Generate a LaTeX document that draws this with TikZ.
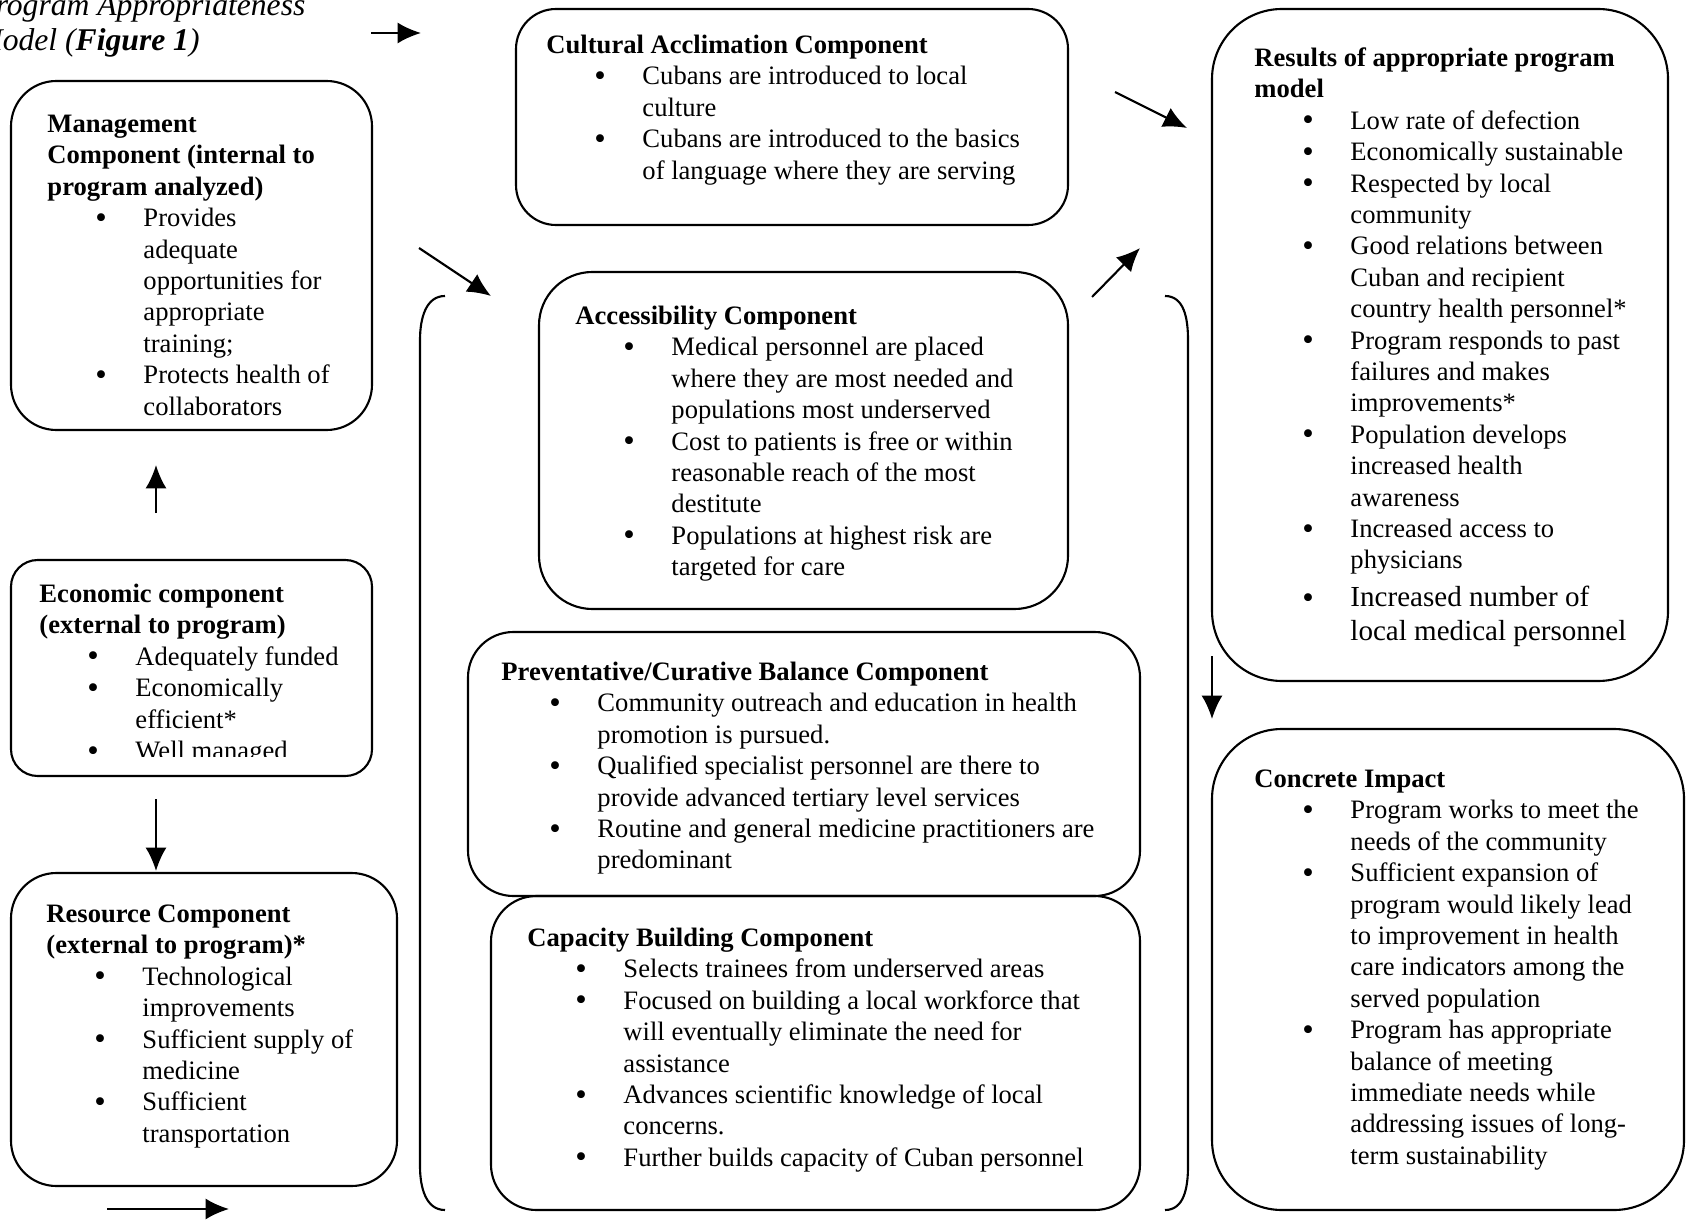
\documentclass[tikz,border=0pt]{standalone}
\usepackage{fontspec}
\setmainfont{Liberation Serif}
\usepackage{tikz}
\usetikzlibrary{arrows.meta,fit}

\newlength{\px}
\setlength{\px}{0.015cm}
% bullet and continuation indents
\newcommand{\bl}{\hspace*{48\px}\makebox[48\px][l]{\smash{\raisebox{-0.7pt}{\fontsize{14pt}{0pt}\selectfont\textbullet}}}}
\newcommand{\cn}{\hspace*{96\px}}

\begin{document}
\begin{tikzpicture}[x=0.015cm, y=-0.015cm]
		\tikzstyle{box}=[draw, line width=0.9pt, inner sep=0pt];
		\tikzstyle{txt}=[anchor=north west, inner sep=0pt, align=left, font=\fontsize{11.35pt}{13.4pt}\selectfont];
		\tikzstyle{arr}=[line width=0.9pt, -{Latex[length=10pt,width=9pt]}];
		\tikzstyle{brk}=[line width=0.9pt];

		\useasboundingbox (0,0) rectangle (1686,1221);
		\clip (0,0) rectangle (1686,1221);

		% title
		\node[anchor=north west, inner sep=0pt, align=left, font=\fontsize{13.5pt}{15pt}\selectfont\itshape] (title) at (-24,-10) {\strut Program Appropriateness\\Model (\textbf{Figure 1})};

		% left column
		\node[box, rounded corners=0.68cm, fit={(11,81) (372,430)}] (mgmt) {};
		\node[txt] (mgmtT) at (47,110) {\strut\textbf{Management}\\\textbf{Component (internal to}\\\textbf{program analyzed)}\\\bl Provides\\\cn adequate\\\cn opportunities for\\\cn appropriate\\\cn training;\\\bl Protects health of\\\cn collaborators};

		\node[box, rounded corners=0.4cm, fit={(11,560) (372,776)}] (econ) {};
		\begin{scope}
			\clip (11,560) rectangle (372,756);
			\node[txt] (econT) at (39,580) {\strut\textbf{Economic component}\\\textbf{(external to program)}\\\bl Adequately funded\\\bl Economically\\\cn efficient*\\\bl Well managed};
		\end{scope}

		\node[box, rounded corners=0.68cm, fit={(11,873) (397,1186)}] (res) {};
		\node[txt] (resT) at (46,900) {\strut\textbf{Resource Component}\\\textbf{(external to program)*}\\\bl Technological\\\cn improvements\\\bl Sufficient supply of\\\cn medicine\\\bl Sufficient\\\cn transportation};

		% middle column
		\node[box, rounded corners=0.6cm, fit={(516,9) (1068,225)}] (cult) {};
		\node[txt] (cultT) at (546,31) {\strut\textbf{Cultural Acclimation Component}\\\bl Cubans are introduced to local\\\cn culture\\\bl Cubans are introduced to the basics\\\cn of language where they are serving};

		\node[box, rounded corners=0.8cm, fit={(539,272) (1068,609)}] (acc) {};
		\node[txt] (accT) at (575,302) {\strut\textbf{Accessibility Component}\\\bl Medical personnel are placed\\\cn where they are most needed and\\\cn populations most underserved\\\bl Cost to patients is free or within\\\cn reasonable reach of the most\\\cn destitute\\\bl Populations at highest risk are\\\cn targeted for care};

		\node[box, rounded corners=0.68cm, fit={(468,632) (1140,896)}] (prev) {};
		\node[txt] (prevT) at (501,658) {\strut\textbf{Preventative/Curative Balance Component}\\\bl Community outreach and education in health\\\cn promotion is pursued.\\\bl Qualified specialist personnel are there to\\\cn provide advanced tertiary level services\\\bl Routine and general medicine practitioners are\\\cn predominant};

		\node[box, rounded corners=0.68cm, fit={(491,896) (1140,1210)}] (cap) {};
		\node[txt] (capT) at (527,924) {\strut\textbf{Capacity Building Component}\\\bl Selects trainees from underserved areas\\\bl Focused on building a local workforce that\\\cn will eventually eliminate the need for\\\cn assistance\\\bl Advances scientific knowledge of local\\\cn concerns.\\\bl Further builds capacity of Cuban personnel};

		% brackets
		\draw[brk] (445,296) .. controls (426,296) and (420,318) .. (420,340) -- (420,1166) .. controls (420,1188) and (426,1210) .. (445,1210);
		\draw[brk] (1165,296) .. controls (1184,296) and (1188,318) .. (1188,340) -- (1188,1166) .. controls (1188,1188) and (1184,1210) .. (1165,1210);

		% right column
		\node[box, rounded corners=1.05cm, fit={(1212,9) (1668,681)}] (resu) {};
		\node[txt] (resuT) at (1254,44) {\strut\textbf{Results of appropriate program}\\\textbf{model}\\\bl Low rate of defection\\\bl Economically sustainable\\\bl Respected by local\\\cn community\\\bl Good relations between\\\cn Cuban and recipient\\\cn country health personnel*\\\bl Program responds to past\\\cn failures and makes\\\cn improvements*\\\bl Population develops\\\cn increased health\\\cn awareness\\\bl Increased access to\\\cn physicians};
		\node[txt, font=\fontsize{12.4pt}{14.3pt}\selectfont] (resuB) at (1254,583) {\strut\bl Increased number of\\\cn local medical personnel};

		\node[box, rounded corners=1.05cm, fit={(1212,729) (1684,1210)}] (conc) {};
		\node[txt] (concT) at (1254,765) {\strut\textbf{Concrete Impact}\\\bl Program works to meet the\\\cn needs of the community\\\bl Sufficient expansion of\\\cn program would likely lead\\\cn to improvement in health\\\cn care indicators among the\\\cn served population\\\bl Program has appropriate\\\cn balance of meeting\\\cn immediate needs while\\\cn addressing issues of long-\\\cn term sustainability};

		% arrows
		\coordinate (ttl1) at (371,33);
		\coordinate (ttl2) at (421,33);
		\coordinate (mg1) at (419,248);
		\coordinate (mg2) at (491,296);
		\coordinate (cu1) at (1115,92);
		\coordinate (cu2) at (1187,128);
		\coordinate (ac1) at (1092,297);
		\coordinate (ac2) at (1140,248);
		\coordinate (ec1) at (156,513);
		\coordinate (ec2) at (156,465);
		\coordinate (rs1) at (156,799);
		\coordinate (rs2) at (156,871);
		\coordinate (bt1) at (107,1209);
		\coordinate (bt2) at (229,1209);
		\coordinate (rc1) at (1212,656);
		\coordinate (rc2) at (1212,719);
		\draw[arr] (ttl1) -- (ttl2);
		\draw[arr] (mg1) -- (mg2);
		\draw[arr] (cu1) -- (cu2);
		\draw[arr] (ac1) -- (ac2);
		\draw[arr] (ec1) -- (ec2);
		\draw[arr] (rs1) -- (rs2);
		\draw[arr] (bt1) -- (bt2);
		\draw[arr] (rc1) -- (rc2);
	\end{tikzpicture}
\end{document}
